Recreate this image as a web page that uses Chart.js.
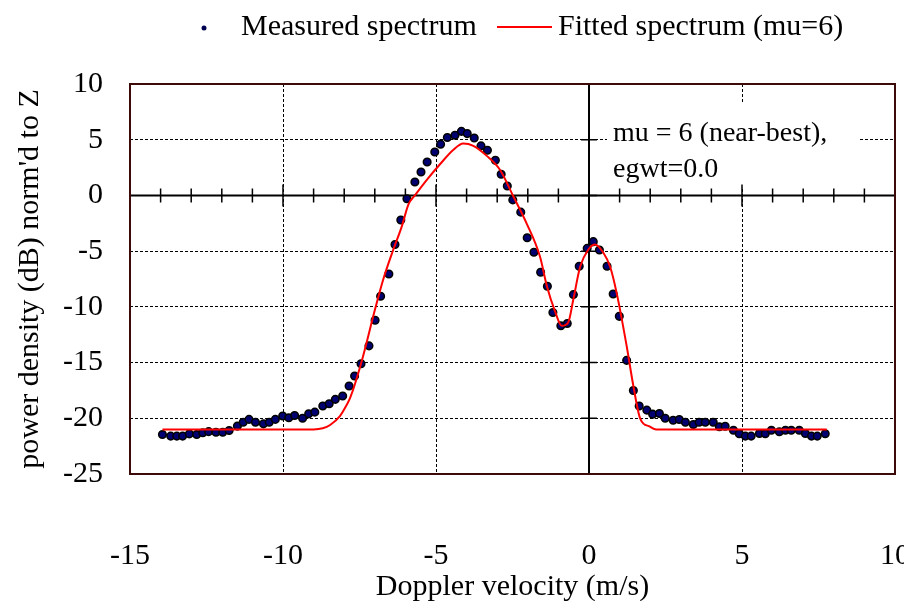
<!DOCTYPE html>
<html>
<head>
<meta charset="utf-8">
<script src="https://cdn.jsdelivr.net/npm/chart.js@4.4.1/dist/chart.umd.min.js"></script>
<style>
  html, body { margin: 0; padding: 0; background: #fff; }
</style>
</head>
<body>
<canvas id="myChart" width="904" height="601"></canvas>
<script>
// measured spectrum (Doppler velocity m/s, dB)
let measuredX = [
  -13.94, -13.67, -13.47, -13.28, -13.06, -12.82, -12.62, -12.43, -12.19, -11.97,
  -11.76, -11.49, -11.30, -11.11, -10.90, -10.64, -10.45, -10.25, -10.01, -9.81,
  -9.62, -9.36, -9.16, -8.96, -8.70, -8.49, -8.29, -8.05, -7.84, -7.66,
  -7.45, -7.19, -6.99, -6.81, -6.54, -6.34, -6.15, -5.95, -5.69, -5.49,
  -5.29, -5.04, -4.85, -4.63, -4.38, -4.17, -3.98, -3.75, -3.53, -3.32,
  -3.06, -2.87, -2.67, -2.49, -2.23, -2.02, -1.80, -1.58, -1.36, -1.18,
  -0.92, -0.71, -0.51, -0.32, -0.06, 0.14, 0.34, 0.59, 0.79, 0.99,
  1.23, 1.45, 1.64, 1.89, 2.08, 2.30, 2.49, 2.75, 2.95, 3.15,
  3.41, 3.60, 3.80, 4.06, 4.26, 4.45, 4.72, 4.91, 5.11, 5.30,
  5.57, 5.76, 5.96, 6.22, 6.42, 6.61, 6.87, 7.07, 7.27, 7.46, 7.72
];
let measuredY = [
  -21.45, -21.6, -21.6, -21.6, -21.4, -21.45, -21.3, -21.2, -21.25, -21.25,
  -21.1, -20.7, -20.35, -20.1, -20.35, -20.5, -20.35, -20.1, -19.8, -19.95,
  -19.75, -20.0, -19.6, -19.45, -18.9, -18.7, -18.3, -18.0, -17.1, -16.2,
  -15.1, -13.5, -11.2, -9.05, -7.05, -4.4, -2.2, -0.3, 1.2, 2.1,
  3.0, 3.9, 4.6, 5.2, 5.4, 5.75, 5.55, 5.15, 4.45, 4.05,
  3.15, 1.9, 0.85, -0.4, -1.5, -3.8, -5.1, -6.9, -8.15, -10.5,
  -11.7, -11.5, -8.9, -6.35, -4.75, -4.15, -4.9, -6.35, -8.85, -10.85,
  -14.8, -17.5, -18.9, -19.27, -19.63, -19.57, -20.0, -20.17, -20.11, -20.35,
  -20.56, -20.35, -20.35, -20.35, -20.76, -20.71, -21.07, -21.39, -21.6, -21.6,
  -21.36, -21.39, -21.07, -21.21, -21.07, -21.07, -21.07, -21.36, -21.6, -21.6, -21.39
];
// fitted spectrum (mu=6)
let fitX = [
  -13.94, -9.0, -8.7, -8.46, -8.14, -7.92, -7.81, -7.45, -6.99, -6.72,
  -6.4, -6.12, -5.9, -5.69, -5.3, -4.87, -4.43, -4.11, -3.78, -3.34,
  -2.91, -2.47, -2.04, -1.6, -1.38, -1.11, -0.89, -0.68, -0.51, -0.29,
  -0.02, 0.2, 0.47, 0.69, 0.9, 1.23, 1.45, 1.67, 1.99, 2.2, 7.77
];
let fitY = [
  -21.0, -21.0, -20.9, -20.6, -19.8, -18.8, -18.2, -15.1, -10.2, -7.5,
  -4.9, -2.8, -0.8, 0.0, 1.4, 2.8, 4.1, 4.65, 4.45, 3.55,
  2.3, -0.1, -2.5, -5.5, -8.1, -10.4, -11.7, -11.4, -9.3, -6.4,
  -4.85, -4.4, -5.15, -6.4, -8.7, -13.5, -17.1, -20.0, -20.75, -21.0, -21.0
];
let xTicks = [-15, -10, -5, 0, 5, 10];
let yTicks = [-25, -20, -15, -10, -5, 0, 5, 10];
let legendLabels = ["Measured spectrum", "Fitted spectrum (mu=6)"];
let noteLines = ["mu = 6 (near-best),", "egwt=0.0"];

let fontName = "'Liberation Serif', 'Times New Roman', serif";

function toPoints(xs, ys) {
  return xs.map((x, i) => ({ x: x, y: ys[i] }));
}

let extras = {
  id: "extras",
  beforeDatasetsDraw(chart) {
    let ctx = chart.ctx;
    let xs = chart.scales.x;
    let ys = chart.scales.y;
    let area = chart.chartArea;
    ctx.save();
    // white note box covering the grid
    ctx.fillStyle = "#fff";
    ctx.fillRect(607, 102, 253, 85);
    // zero axes
    let x0 = xs.getPixelForValue(0);
    let y0 = ys.getPixelForValue(0);
    ctx.strokeStyle = "#000";
    ctx.lineWidth = 2;
    ctx.beginPath();
    ctx.moveTo(area.left, y0);
    ctx.lineTo(area.right, y0);
    ctx.moveTo(x0, area.top);
    ctx.lineTo(x0, area.bottom);
    ctx.stroke();
    ctx.lineWidth = 1.5;
    ctx.beginPath();
    for (let v = -14; v <= 9; v++) {
      let px = xs.getPixelForValue(v);
      let len = v % 5 == 0 ? 11 : 7;
      ctx.moveTo(px, y0 - len);
      ctx.lineTo(px, y0 + len);
    }
    for (let v of yTicks) {
      let py = ys.getPixelForValue(v);
      ctx.moveTo(x0 - 8, py);
      ctx.lineTo(x0 + 8, py);
    }
    ctx.stroke();
    // frame
    ctx.strokeStyle = "#3d0a0a";
    ctx.lineWidth = 2;
    ctx.strokeRect(area.left, area.top, area.right - area.left, area.bottom - area.top);
    ctx.restore();
  },
  afterDraw(chart) {
    let ctx = chart.ctx;
    ctx.save();
    ctx.fillStyle = "#000";
    ctx.textBaseline = "middle";
    ctx.textAlign = "left";
    ctx.font = "30px " + fontName;
    // legend
    ctx.beginPath();
    ctx.arc(204, 28, 2.5, 0, Math.PI * 2);
    ctx.fillStyle = "#000050";
    ctx.fill();
    ctx.fillStyle = "#000";
    ctx.fillText(legendLabels[0], 241, 27);
    ctx.strokeStyle = "#ff0000";
    ctx.lineWidth = 2;
    ctx.beginPath();
    ctx.moveTo(497, 27);
    ctx.lineTo(552, 27);
    ctx.stroke();
    ctx.fillText(legendLabels[1], 558, 27);
    // note
    ctx.font = "28px " + fontName;
    ctx.fillText(noteLines[0], 613, 134);
    ctx.fillText(noteLines[1], 613, 170);
    ctx.restore();
  },
};

let ctx = document.getElementById("myChart").getContext("2d");
let myChart = new Chart(ctx, {
  type: "scatter",
  data: {
    datasets: [
      {
        label: legendLabels[1],
        data: toPoints(fitX, fitY),
        showLine: true,
        borderColor: "#ff0000",
        borderWidth: 2,
        pointRadius: 0,
        cubicInterpolationMode: "monotone",
        order: 1,
      },
      {
        label: legendLabels[0],
        data: toPoints(measuredX, measuredY),
        showLine: false,
        pointRadius: 3.8,
        pointBorderWidth: 1.5,
        pointBackgroundColor: "#000070",
        pointBorderColor: "#000",
        order: 2,
      },
    ],
  },
  options: {
    responsive: false,
    animation: false,
    layout: { padding: { top: 84, right: 9, left: 0, bottom: 0 } },
    plugins: {
      legend: { display: false },
      tooltip: { enabled: false },
    },
    scales: {
      x: {
        type: "linear",
        min: -15,
        max: 10,
        afterBuildTicks: (scale) => {
          scale.ticks = xTicks.map((v) => ({ value: v }));
        },
        afterFit: (scale) => {
          scale.height = 127;
          scale.paddingLeft = 0;
          scale.paddingRight = 0;
        },
        ticks: {
          color: "#000",
          font: { family: fontName, size: 30 },
          padding: 64,
          maxRotation: 0,
        },
        grid: {
          color: (c) => (c.tick && c.tick.value == 0 ? "rgba(0,0,0,0)" : "#000"),
          lineWidth: 1,
          drawTicks: false,
        },
        border: { display: false, dash: [3, 2] },
        title: {
          display: true,
          text: "Doppler velocity (m/s)",
          color: "#000",
          font: { family: fontName, size: 30 },
          padding: { top: 0, bottom: -4 },
        },
      },
      y: {
        type: "linear",
        min: -25,
        max: 10,
        afterBuildTicks: (scale) => {
          scale.ticks = yTicks.map((v) => ({ value: v }));
        },
        afterFit: (scale) => {
          scale.width = 130;
          scale.paddingTop = 0;
          scale.paddingBottom = 0;
        },
        ticks: {
          color: "#000",
          font: { family: fontName, size: 30 },
          padding: 27,
        },
        grid: {
          color: (c) => (c.tick && c.tick.value == 0 ? "rgba(0,0,0,0)" : "#000"),
          lineWidth: 1,
          drawTicks: false,
        },
        border: { display: false, dash: [3, 2] },
        title: {
          display: true,
          text: "power density (dB) norm'd to Z",
          color: "#000",
          font: { family: fontName, size: 30 },
          padding: { top: 12, bottom: 0 },
        },
      },
    },
  },
  plugins: [extras],
});
</script>
</body>
</html>
